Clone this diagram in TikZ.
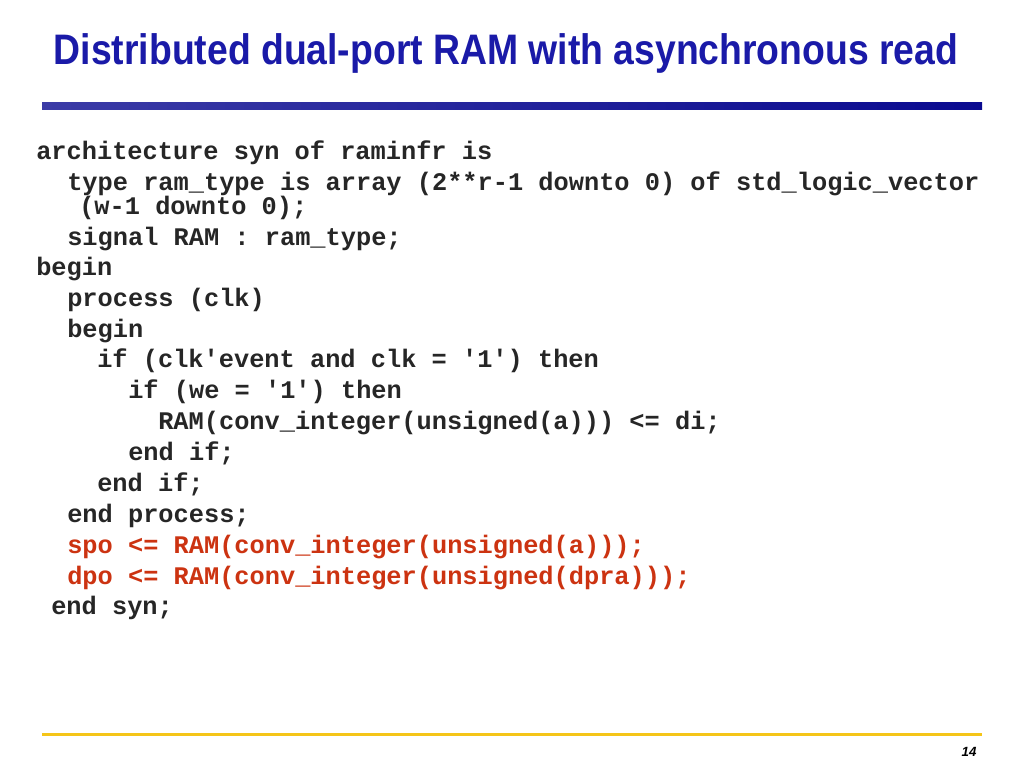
\documentclass[tikz,border=0pt]{standalone}
\usepackage{fontspec}
\setmainfont{Liberation Sans}
\newfontfamily\codefont{Liberation Mono}
\definecolor{titleblue}{HTML}{1A1AA8}
\definecolor{codered}{HTML}{CC3311}
\definecolor{barblue}{HTML}{0A0A90}
\definecolor{baryellow}{HTML}{F5C518}
\begin{document}
\begin{tikzpicture}[x=0.75pt,y=-0.75pt,
  code/.style={anchor=base west,inner sep=0pt,font=\codefont\bfseries\fontsize{19}{19}\selectfont,text=black!85},
  red/.style={code,text=codered}]
\useasboundingbox[fill=white] (0,0) rectangle (1024,768);
\node[anchor=center,inner sep=0pt,text=titleblue,font=\bfseries\fontsize{32}{32}\selectfont,xscale=0.875] (title) at (506,53) {Distributed dual-port RAM with asynchronous read};
\shade[left color=barblue!80!white,right color=barblue] (42,102) rectangle (982,109);
\fill[baryellow] (42,733) rectangle (982,735.5);
\node[anchor=center,inner sep=0pt,font=\bfseries\itshape\fontsize{10}{10}\selectfont] (pg) at (969,752) {14};
\node[code] (l1) at (36,159) {architecture syn of raminfr is};
\node[code] (l2) at (67,190) {type ram\_type is array (2**r-1 downto 0) of std\_logic\_vector};
\node[code] (l3) at (79,214) {(w-1 downto 0);};
\node[code] (l4) at (67,245) {signal RAM : ram\_type;};
\node[code] (l5) at (36,275) {begin};
\node[code] (l6) at (67,306) {process (clk)};
\node[code] (l7) at (67,337) {begin};
\node[code] (l8) at (97,367) {if (clk'event and clk = '1') then};
\node[code] (l9) at (128,398) {if (we = '1') then};
\node[code] (l10) at (158,429) {RAM(conv\_integer(unsigned(a))) <= di;};
\node[code] (l11) at (128,460) {end if;};
\node[code] (l12) at (97,491) {end if;};
\node[code] (l13) at (67,522) {end process;};
\node[red] (l14) at (67,553) {spo <= RAM(conv\_integer(unsigned(a)));};
\node[red] (l15) at (67,584) {dpo <= RAM(conv\_integer(unsigned(dpra)));};
\node[code] (l16) at (51,614) {end syn;};
\end{tikzpicture}
\end{document}
